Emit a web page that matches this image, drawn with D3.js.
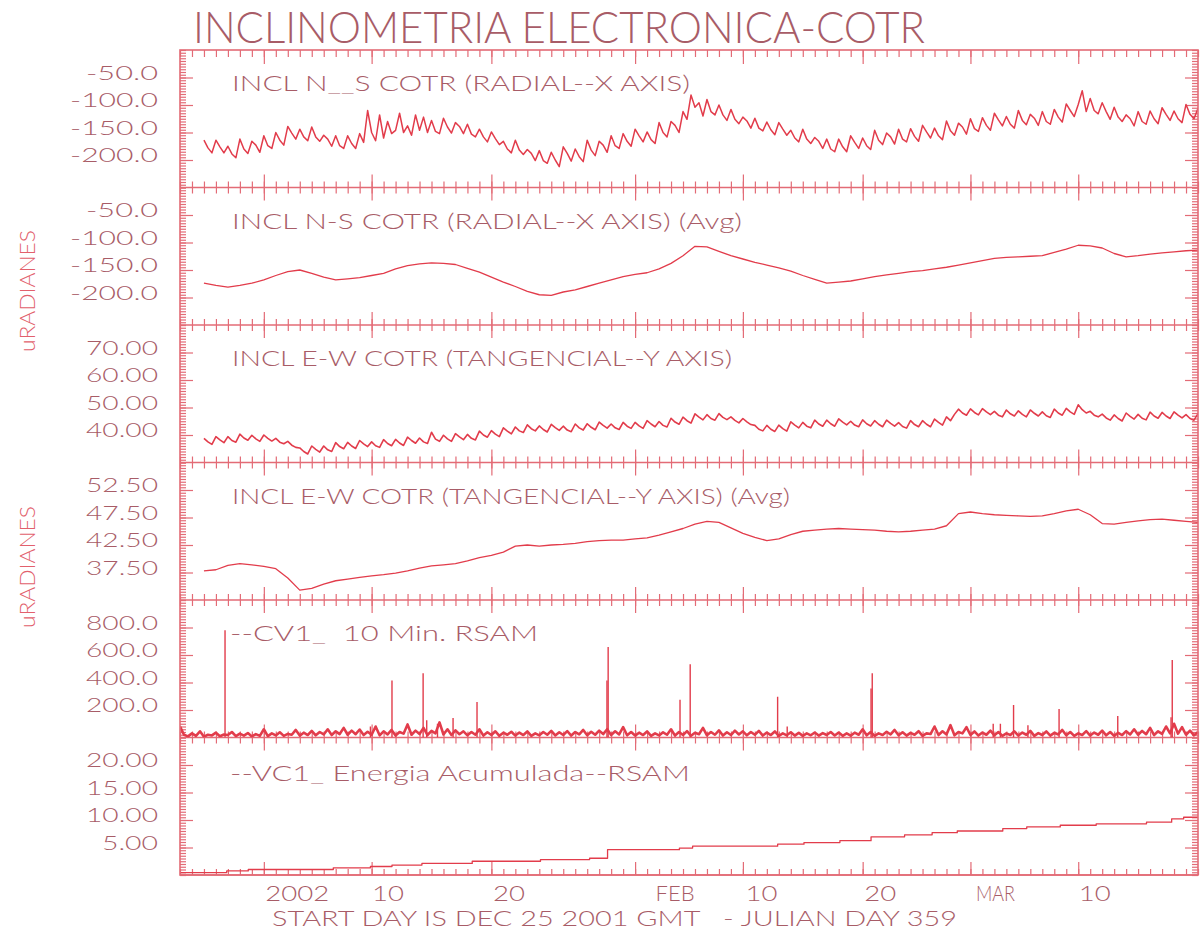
<!DOCTYPE html>
<html>
<head>
<meta charset="utf-8">
<script src="https://cdnjs.cloudflare.com/ajax/libs/d3/7.8.5/d3.min.js"></script>
<style>
  body { margin: 0; background: #fff; }
  svg { display: block; }
  text { font-family: Lato, "DejaVu Sans", sans-serif; font-weight: 300; white-space: pre; }
</style>
</head>
<body>
<svg id="chart" width="1203" height="930"></svg>
<script>
(function () {
'use strict';

// ---- data (days since DEC 25 2001) ----
var rawStart = 2, rawStep = 1 / 3;   // raw inclinometer samples, 3 a day
var avgStart = 2, avgStep = 1;       // averaged samples, 1 a day

var nsRaw = [
  -164,-178,-187, -164,-176,-187, -175,-189,-196, -162,-180,-188,
  -166,-173,-186, -156,-174,-179, -150,-164,-173, -139,-151,-162,
  -144,-158,-165, -140,-158,-166, -155,-162,-175, -156,-174,-179,
  -156,-170,-179, -152,-168,-110, -150,-165,-118, -160,-130,-152,
  -146,-115,-150, -138,-155,-118, -146,-122,-150, -128,-148,-152,
  -124,-140,-151, -132,-139,-152, -135,-153,-158, -144,-158,-167,
  -149,-161,-172, -166,-180,-187, -164,-182,-190, -181,-188,-201,
  -183,-201,-206, -186,-200,-212, -176,-188,-202, -180,-194,-203,
  -164,-182,-192, -166,-173,-186, -156,-174,-179, -152,-166,-175,
  -144,-156,-167, -149,-163,-170, -132,-150,-158, -130,-137,-150,
  -112,-126,-82,  -104,-96,-120,  -90,-112,-118,  -100,-118,-128,
  -108,-126,-134, -122,-129,-142, -124,-142,-147, -131,-145,-154,
  -132,-144,-155, -146,-160,-167, -144,-162,-170, -159,-166,-179,
  -162,-180,-185, -162,-176,-185, -156,-168,-179, -160,-174,-181,
  -146,-164,-172, -151,-158,-171, -144,-162,-167, -143,-157,-166,
  -137,-149,-160, -142,-156,-163, -129,-147,-155, -133,-140,-153,
  -125,-143,-148, -123,-137,-146, -115,-127,-138, -121,-135,-142,
  -110,-128,-136, -117,-124,-137, -112,-130,-135, -108,-122,-131,
  -98,-110,-121,  -99,-74,-112,   -88,-110,-116,  -96,-112,-126,
  -104,-122,-130, -118,-125,-138, -112,-130,-135, -111,-125,-134,
  -105,-117,-128, -111,-125,-132, -99,-117,-125,  -106,-113,-126
];

var nsAvg = [
  -174,-178,-181,-178,-174,-168,-160,-153,-150,-156,
  -163,-168,-166,-164,-160,-156,-148,-142,-139,-137,
  -138,-140,-147,-154,-163,-172,-180,-189,-195,-196,
  -190,-186,-180,-174,-168,-162,-158,-155,-148,-138,
  -124,-107,-108,-116,-124,-130,-136,-141,-146,-152,
  -160,-167,-174,-172,-170,-166,-162,-159,-156,-153,
  -151,-148,-145,-141,-137,-133,-129,-127,-126,-125,
  -124,-118,-112,-105,-106,-110,-120,-126,-124,-121,
  -119,-117,-115,-114
];

var ewRaw = [
  38.8,37.5,36.6, 39.4,38.2,37.2, 39.4,38.0,37.4, 40.3,38.9,38.1,
  39.9,38.6,37.7, 40.0,38.8,37.8, 38.8,37.4,36.8, 37.7,36.3,35.5,
  35.3,34.0,33.1, 36.0,34.8,33.8, 36.0,34.6,34.0, 37.2,35.8,35.0,
  37.3,36.0,35.1, 38.0,36.8,35.8, 37.5,36.1,35.5, 38.3,36.9,36.1,
  38.4,37.1,36.2, 39.2,38.0,37.0, 38.9,37.5,36.9, 41.0,38.5,37.7,
  39.9,38.6,37.7, 40.5,39.3,38.3, 40.2,38.8,38.2, 41.4,40.0,39.2,
  41.6,40.3,39.4, 42.6,41.4,40.4, 42.9,41.5,40.9, 43.7,42.3,41.5,
  43.3,42.0,41.1, 43.9,42.7,41.7, 43.2,41.8,41.2, 44.0,42.6,41.8,
  44.1,42.8,41.9, 44.7,43.5,42.5, 44.0,42.6,42.0, 44.6,43.2,42.4,
  44.6,43.3,42.4, 45.2,44.0,43.0, 44.9,43.5,42.9, 46.1,44.7,43.9,
  46.5,45.2,44.3, 47.7,46.5,45.5, 47.4,46.0,45.4, 47.8,46.4,45.6,
  46.6,45.3,44.4, 46.0,44.8,43.8, 43.5,42.1,41.5, 43.5,42.1,41.3,
  43.6,42.3,41.4, 44.8,43.6,42.6, 44.6,43.2,42.6, 45.4,44.0,43.2,
  45.4,44.1,43.2, 45.9,44.7,43.7, 45.0,43.6,43.0, 45.5,44.1,43.3,
  45.2,43.9,43.0, 45.4,44.2,43.2, 44.5,43.1,42.5, 45.2,43.8,43.0,
  45.2,43.9,43.0, 45.8,44.6,43.6, 46.6,45.2,47.5, 49.4,48.0,47.2,
  49.5,48.2,47.3, 49.6,48.4,47.4, 48.6,47.2,46.6, 49.1,47.7,46.9,
  48.8,47.5,46.6, 49.1,47.9,46.9, 48.4,47.0,46.4, 49.4,48.0,47.2,
  49.7,48.4,47.5, 51.0,49.2,48.0, 48.6,47.2,46.6, 47.6,46.2,45.4,
  47.3,46.0,45.1, 48.0,46.8,45.8, 47.5,46.1,45.5, 48.3,46.9,46.1,
  48.2,46.9,46.0, 48.4,47.2,46.2, 47.4,46.0,45.4, 47.8,46.4,45.6
];

var ewAvg = [
  37.8,38.0,38.8,39.1,38.9,38.6,38.2,36.5,34.3,34.6,
  35.4,36.0,36.3,36.6,36.9,37.1,37.4,37.8,38.3,38.7,
  38.9,39.1,39.6,40.2,40.6,41.2,42.3,42.5,42.3,42.5,
  42.6,42.8,43.1,43.3,43.4,43.4,43.6,43.8,44.3,44.9,
  45.5,46.3,46.8,46.6,45.6,44.6,43.9,43.3,43.6,44.4,
  45.0,45.2,45.4,45.5,45.4,45.3,45.2,45.0,44.9,45.0,
  45.2,45.4,46.0,48.2,48.5,48.2,48.0,47.9,47.8,47.7,
  47.8,48.2,48.7,49.0,48.0,46.4,46.3,46.6,46.9,47.1,
  47.2,47.0,46.8,46.6
];

var rsamStart = 0, rsamStep = 1 / 3;
var rsamNoise = [
  80,20,8,30,12,45,6,20,15,35,9,22,
  18,40,10,28,14,32,8,25,12,60,10,30,
  15,38,12,26,20,55,14,35,18,48,16,40,
  22,60,18,45,25,70,20,50,24,58,18,42,
  20,80,16,45,22,55,14,40,28,95,20,50,
  25,70,18,48,30,110,22,60,18,52,24,45,
  16,40,20,60,14,38,18,45,12,35,20,42,
  14,36,18,44,12,30,16,40,20,48,15,38,
  18,46,14,40,22,55,16,42,20,50,25,60,
  18,45,22,75,16,40,14,35,18,44,12,30,
  15,38,20,60,14,40,18,46,12,35,24,70,
  16,40,20,52,14,38,18,50,22,45,16,40,
  20,48,14,36,18,44,12,30,16,38,14,34,
  12,30,16,36,14,32,18,40,15,36,12,30,
  14,35,20,60,16,40,12,30,18,42,22,55,
  16,38,14,34,20,46,12,30,25,80,18,45,
  22,90,16,40,30,75,18,44,14,36,20,50,
  16,40,12,30,18,45,14,36,20,48,12,32,
  18,44,14,34,22,55,16,40,12,30,18,46,
  14,36,20,50,16,40,12,34,18,46,22,60,
  20,48,24,70,18,45,26,80,30,100,28,75,
  20,50,16,40
];
var rsamSpikeDays = [3.76,15.9,17.7,20.3,20.6,21.5,22.8,24.8,35.65,35.75,41.75,42.6,
                     49.9,50.7,57.7,57.8,67.9,68.5,69.6,70.8,73.4,78.3,82.75,82.85];
var rsamSpikeValues = [780,80,415,467,126,100,141,259,415,659,274,533,
                       296,80,356,467,100,100,237,90,207,156,148,563];

var energyDays = [0,3.9,5.7,12.8,15.9,17.7,20.2,24.4,30.1,34.2,35.7,41.7,42.8,49.9,
                  52.1,55.1,57.7,60.5,62.8,64.9,68.7,70.7,73.5,76.5,80.7,82.8,83.8,85];
var energyValues = [0.45,0.75,1.0,1.3,1.55,1.8,2.1,2.5,2.8,3.05,4.6,4.9,5.25,5.6,
                    5.9,6.25,6.95,7.3,7.7,8.0,8.45,8.75,9.05,9.3,9.6,10.2,10.5,10.5];

var nsTicks = [-200, -150, -100, -50];
var ewTicks = [40, 50, 60, 70];
var ewAvgTicks = [37.5, 42.5, 47.5, 52.5];
var rsamTicks = [200, 400, 600, 800];
var energyTicks = [5, 10, 15, 20];

var xTickDays = [7, 16, 26, 38, 47, 57, 66, 75];
var xTickLabels = ['2002', '10', '20', 'FEB', '10', '20', 'MAR', '10'];

var panelLabels = [
  'INCL N__S COTR (RADIAL--X AXIS)',
  'INCL N-S COTR (RADIAL--X AXIS) (Avg)',
  'INCL E-W COTR (TANGENCIAL--Y AXIS)',
  'INCL E-W COTR (TANGENCIAL--Y AXIS) (Avg)',
  '--CV1_  10 Min. RSAM',
  '--VC1_ Energia Acumulada--RSAM'
];

// ---- layout ----
var left = 180, right = 1198, frameTop = 50, frameBottom = 875;
var panelH = (frameBottom - frameTop) / 6;
var lineColor = '#e23c4b', frameColor = '#e36b76', textColor = '#a85c67';

var svg = d3.select('#chart');
var x = d3.scaleLinear().domain([0, 85]).range([left, right]);
var dayTicks = d3.range(0, 86);

function series(start, step, values) {
  return values.map(function (v, i) { return [start + i * step, v]; });
}
function zip(days, values) {
  return values.map(function (v, i) { return [days[i], v]; });
}
function fixed(n) { return function (v) { return v.toFixed(n); }; }
function glyphLen(s) {
  var n = 0;
  for (var i = 0; i < s.length; i++) n += s[i] === '.' ? 8 : 16;
  return n;
}

var panels = [
  {domain: [-250, 0], ticks: nsTicks, minor: 5, fmt: fixed(1), labelLen: 458,
   lines: [series(rawStart, rawStep, nsRaw)], width: 1.5},
  {domain: [-250, 0], ticks: nsTicks, minor: 5, fmt: fixed(1), labelLen: 510,
   lines: [series(avgStart, avgStep, nsAvg)], width: 1.3},
  {domain: [30, 80], ticks: ewTicks, minor: 1, fmt: fixed(2), labelLen: 500,
   lines: [series(rawStart, rawStep, ewRaw)], width: 1.6},
  {domain: [32.5, 57.5], ticks: ewAvgTicks, minor: 0.5, fmt: fixed(2), labelLen: 558,
   lines: [series(avgStart, avgStep, ewAvg)], width: 1.3},
  {domain: [0, 1000], ticks: rsamTicks, minor: 20, fmt: fixed(1), labelLen: 308,
   lines: [series(rsamStart, rsamStep, rsamNoise)], width: 2.6, spikes: zip(rsamSpikeDays, rsamSpikeValues)},
  {domain: [0, 25], ticks: energyTicks, minor: 0.5, fmt: fixed(2), labelLen: 460,
   lines: [zip(energyDays, energyValues)], width: 1.3, step: true}
];

function clean(g) { g.select('.domain').remove(); g.attr('color', frameColor).attr('stroke-width', 1.2); }

panels.forEach(function (p, i) {
  var top = frameTop + i * panelH, bottom = top + panelH;
  var y = d3.scaleLinear().domain(p.domain).range([bottom, top]);
  var g = svg.append('g');
  var minorVals = d3.range(p.domain[0], p.domain[1] + p.minor / 2, p.minor);

  // left / right ticks
  g.append('g').attr('transform', 'translate(' + left + ',0)')
    .call(d3.axisRight(y).tickValues(minorVals).tickSize(6).tickSizeOuter(0).tickFormat('')).call(clean);
  g.append('g').attr('transform', 'translate(' + left + ',0)')
    .call(d3.axisRight(y).tickValues(p.ticks).tickSize(13).tickSizeOuter(0).tickFormat('')).call(clean);
  g.append('g').attr('transform', 'translate(' + right + ',0)')
    .call(d3.axisLeft(y).tickValues(minorVals).tickSize(6).tickSizeOuter(0).tickFormat('')).call(clean);
  g.append('g').attr('transform', 'translate(' + right + ',0)')
    .call(d3.axisLeft(y).tickValues(p.ticks).tickSize(13).tickSizeOuter(0).tickFormat('')).call(clean);

  // y tick labels (right edge 22px left of the frame)
  var lab = g.append('g').attr('transform', 'translate(' + (left - 22) + ',0)')
    .call(d3.axisLeft(y).tickValues(p.ticks).tickSize(0).tickPadding(0).tickFormat(p.fmt));
  lab.select('.domain').remove();
  lab.attr('font-family', null).attr('font-size', null).attr('text-anchor', null);
  lab.selectAll('text')
    .attr('fill', textColor).attr('font-size', 20).attr('dy', '0.08em')
    .attr('text-anchor', 'start')
    .attr('x', function () { return -glyphLen(this.textContent); })
    .attr('textLength', function () { return glyphLen(this.textContent); })
    .attr('lengthAdjust', 'spacingAndGlyphs');

  // top and bottom day ticks of the panel
  var tMinor = i === 0 ? 7 : 6, tMajor = i === 0 ? 14 : 13;
  g.append('g').attr('transform', 'translate(0,' + top + ')')
    .call(d3.axisBottom(x).tickValues(dayTicks).tickSize(tMinor).tickSizeOuter(0).tickFormat('')).call(clean);
  g.append('g').attr('transform', 'translate(0,' + top + ')')
    .call(d3.axisBottom(x).tickValues(xTickDays).tickSize(tMajor).tickSizeOuter(0).tickFormat('')).call(clean);
  g.append('g').attr('transform', 'translate(0,' + bottom + ')')
    .call(d3.axisTop(x).tickValues(dayTicks).tickSize(6).tickSizeOuter(0).tickFormat('')).call(clean);
  g.append('g').attr('transform', 'translate(0,' + bottom + ')')
    .call(d3.axisTop(x).tickValues(xTickDays).tickSize(13).tickSizeOuter(0).tickFormat('')).call(clean);

  // separator line
  g.append('line').attr('x1', left).attr('x2', right).attr('y1', bottom).attr('y2', bottom)
    .attr('stroke', frameColor).attr('stroke-width', 1.6);

  // data
  svg.append('clipPath').attr('id', 'clip' + i).append('rect')
    .attr('x', left).attr('y', top).attr('width', right - left).attr('height', panelH);
  var plot = g.append('g').attr('clip-path', 'url(#clip' + i + ')');
  var line = d3.line().x(function (d) { return x(d[0]); }).y(function (d) { return y(d[1]); });
  if (p.step) line.curve(d3.curveStepAfter);
  p.lines.forEach(function (s) {
    plot.append('path').datum(s).attr('d', line)
      .attr('fill', 'none').attr('stroke', lineColor).attr('stroke-width', p.width)
      .attr('stroke-linejoin', 'round');
  });
  if (p.spikes) {
    plot.selectAll('line.spike').data(p.spikes).enter().append('line')
      .attr('class', 'spike')
      .attr('x1', function (d) { return x(d[0]); }).attr('x2', function (d) { return x(d[0]); })
      .attr('y1', y(0)).attr('y2', function (d) { return y(d[1]); })
      .attr('stroke', lineColor).attr('stroke-width', 1.4);
  }

  // panel title
  g.append('text').attr('x', i >= 4 ? 230 : 232).attr('y', top + (i === 5 ? 43 : 41))
    .attr('fill', textColor).attr('font-size', 21)
    .attr('textLength', p.labelLen).attr('lengthAdjust', 'spacingAndGlyphs')
    .text(panelLabels[i]);
});

// frame
svg.append('rect').attr('x', left).attr('y', frameTop)
  .attr('width', right - left).attr('height', frameBottom - frameTop)
  .attr('fill', 'none').attr('stroke', frameColor).attr('stroke-width', 1.6);

// x labels
var xLabelDx = [1, 0, 1, 20, 2, 1, 5, 0];
var xl = svg.append('g').attr('transform', 'translate(0,' + frameBottom + ')')
  .call(d3.axisBottom(x).tickValues(xTickDays).tickSize(0).tickPadding(0)
    .tickFormat(function (d, i) { return xTickLabels[i]; }));
xl.select('.domain').remove();
xl.attr('font-family', null).attr('font-size', null);
xl.selectAll('text')
  .attr('fill', textColor).attr('font-size', 22).attr('text-anchor', 'start')
  .attr('y', 26).attr('dy', null)
  .attr('dx', function (d, i) { return xLabelDx[i]; })
  .attr('textLength', function () { return /[A-Z]/.test(this.textContent) ? 39 : this.textContent.length * 16; })
  .attr('lengthAdjust', 'spacingAndGlyphs');

svg.append('text').attr('x', 272).attr('y', 926)
  .attr('fill', textColor).attr('font-size', 22)
  .attr('textLength', 685).attr('lengthAdjust', 'spacingAndGlyphs')
  .text('START DAY IS DEC 25 2001 GMT   - JULIAN DAY 359');

// title
svg.append('text').attr('x', 193).attr('y', 43)
  .attr('fill', textColor).attr('font-size', 44)
  .attr('textLength', 732).attr('lengthAdjust', 'spacingAndGlyphs')
  .text('INCLINOMETRIA ELECTRONICA-COTR');

// y axis titles
[291, 567].forEach(function (cy) {
  svg.append('text').attr('transform', 'translate(35,' + cy + ') rotate(-90)')
    .attr('text-anchor', 'middle').attr('fill', '#e2606c').attr('font-size', 21)
    .attr('textLength', 122).attr('lengthAdjust', 'spacingAndGlyphs')
    .text('uRADIANES');
});

})();
</script>
</body>
</html>
